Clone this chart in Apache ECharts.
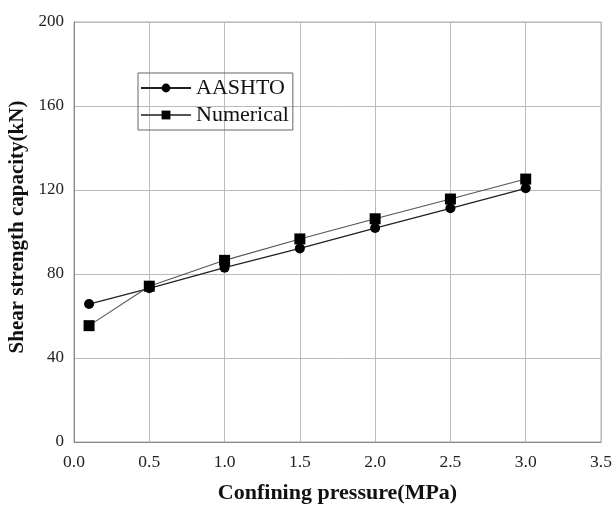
<!DOCTYPE html>
<html><head><meta charset="utf-8">
<script src="https://cdn.jsdelivr.net/npm/echarts@6/dist/echarts.min.js"></script>
<style>html,body{margin:0;padding:0;background:#fff}#c{width:614px;height:509px}</style>
</head><body><div id="c"></div>
<script>
const pressure = [0.1, 0.5, 1.0, 1.5, 2.0, 2.5, 3.0];
const aashto = [65.7, 73.2, 83.0, 92.2, 101.9, 111.3, 120.8];
const numerical = [55.4, 74.2, 86.5, 96.7, 106.3, 115.7, 125.2];
const xTicks = [0.0, 0.5, 1.0, 1.5, 2.0, 2.5, 3.0, 3.5];
const yTicks = [0, 40, 80, 120, 160, 200];

const chart = echarts.init(document.getElementById('c'));
const font = 'Liberation Serif';
chart.setOption({
  animation: false,
  backgroundColor: '#fff',
  grid: {left: 74, right: 13, top: 22, bottom: 67, show: true, borderColor: '#aaa', borderWidth: 1,
         containLabel: false, outerBoundsMode: 'none'},
  legend: {
    orient: 'vertical', left: 138, top: 73,
    borderColor: '#666', borderWidth: 1, padding: [4, 4, 4, 2],
    itemWidth: 50, itemHeight: 11, itemGap: 5,
    textStyle: {fontFamily: font, fontSize: 22, color: '#111'},
    data: ['AASHTO', 'Numerical']
  },
  xAxis: {
    type: 'value', min: 0, max: 3.5, interval: 0.5,
    name: 'Confining pressure(MPa)', nameLocation: 'middle', nameGap: 40,
    nameTextStyle: {fontFamily: font, fontSize: 22, fontWeight: 'bold', color: '#111'},
    axisLine: {show: true, lineStyle: {color: '#888'}},
    axisTick: {show: false},
    axisLabel: {fontFamily: font, fontSize: 17.5, color: '#222', margin: 11, formatter: v => v.toFixed(1)},
    splitLine: {show: true, lineStyle: {color: '#bbb'}}
  },
  yAxis: {
    type: 'value', min: 0, max: 200, interval: 40,
    name: 'Shear strength capacity(kN)', nameLocation: 'middle', nameGap: 44,
    nameTextStyle: {fontFamily: font, fontSize: 21, fontWeight: 'bold', color: '#111', padding: [0, 0, 0, 10]},
    axisLine: {show: true, lineStyle: {color: '#888'}},
    axisTick: {show: false},
    axisLabel: {fontFamily: font, fontSize: 17, color: '#222', margin: 10},
    splitLine: {show: true, lineStyle: {color: '#bbb'}}
  },
  series: [
    {name: 'AASHTO', type: 'line', data: pressure.map((x, i) => [x, aashto[i]]),
     symbol: 'circle', symbolSize: 10, lineStyle: {color: '#222', width: 1.3},
     itemStyle: {color: '#000'}},
    {name: 'Numerical', type: 'line', data: pressure.map((x, i) => [x, numerical[i]]),
     symbol: 'rect', symbolSize: 11, lineStyle: {color: '#555', width: 1.1},
     itemStyle: {color: '#000'}}
  ]
});
</script></body></html>
